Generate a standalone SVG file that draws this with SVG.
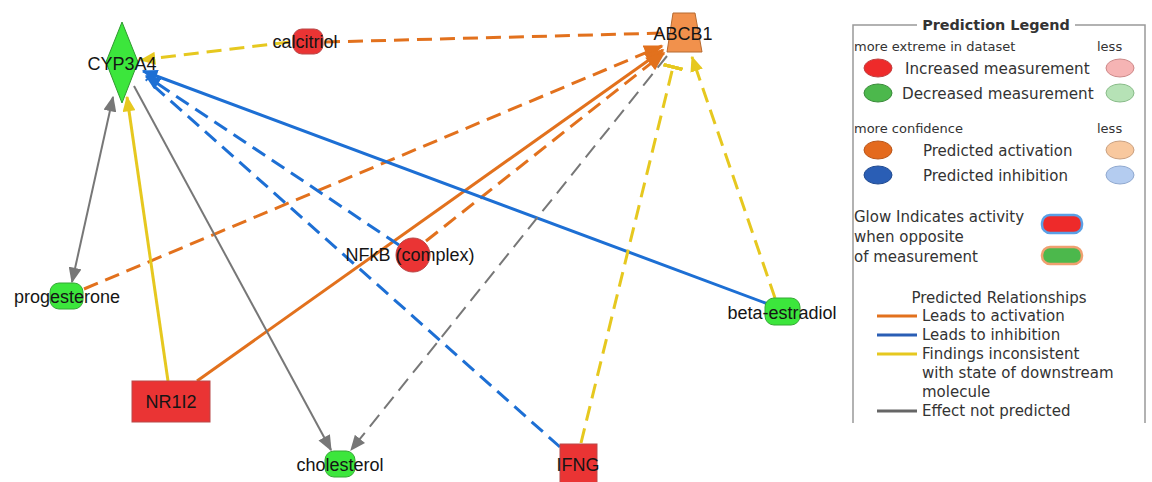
<svg xmlns="http://www.w3.org/2000/svg" width="1152" height="482" viewBox="0 0 1152 482">
  <defs>
    <style>
      .lbl { font-family: "Liberation Sans", Arial, sans-serif; font-size: 18px; fill: #151515; text-anchor: middle; }
      .leg { font-family: "DejaVu Sans", "Liberation Sans", sans-serif; fill: #333; }
      .e { fill: none; stroke-width: 3; }
      .act { stroke: #e2711d; }
      .inh { stroke: #1d6fd4; }
      .inc { stroke: #e6c81f; }
      .np { stroke: #777; stroke-width: 2; }
      .dash { stroke-dasharray: 15 8; }
      .green { fill: #3ce63c; stroke: #34a834; stroke-width: 1; }
      .red { fill: #ea3434; stroke: #b94848; stroke-width: 1; }
    </style>
    <marker id="arOrange" viewBox="0 0 12 10" refX="11" refY="5" markerWidth="20" markerHeight="16" markerUnits="userSpaceOnUse" orient="auto">
      <path d="M0,0 L12,5 L0,10 z" fill="#e2711d"/>
    </marker>
    <marker id="arBlue" viewBox="0 0 12 10" refX="11" refY="5" markerWidth="16" markerHeight="13" markerUnits="userSpaceOnUse" orient="auto">
      <path d="M0,0 L12,5 L0,10 z" fill="#1d6fd4"/>
    </marker>
    <marker id="arYellow" viewBox="0 0 12 10" refX="11" refY="5" markerWidth="16" markerHeight="13" markerUnits="userSpaceOnUse" orient="auto">
      <path d="M0,0 L12,5 L0,10 z" fill="#e6c81f"/>
    </marker>
    <marker id="arGray" viewBox="0 0 12 10" refX="11" refY="5" markerWidth="16" markerHeight="13" markerUnits="userSpaceOnUse" orient="auto">
      <path d="M0,0 L12,5 L0,10 z" fill="#777"/>
    </marker>
    <marker id="arGrayStart" viewBox="0 0 12 10" refX="1" refY="5" markerWidth="16" markerHeight="13" markerUnits="userSpaceOnUse" orient="auto">
      <path d="M12,0 L0,5 L12,10 z" fill="#777"/>
    </marker>
    <marker id="teeYellow" viewBox="0 0 4 20" refX="2" refY="10" markerWidth="4" markerHeight="20" markerUnits="userSpaceOnUse" orient="auto">
      <rect x="0" y="0" width="4" height="20" fill="#e6c81f"/>
    </marker>
  </defs>

  <rect width="1152" height="482" fill="#ffffff"/>

  <!-- connectors -->
  <g id="connectors">
    <line class="e act dash" x1="325" y1="42" x2="666" y2="33"/>
    <line class="e inc dash" x1="290" y1="42" x2="141" y2="60" marker-end="url(#arYellow)"/>
    <line class="e act dash" x1="84" y1="289" x2="662" y2="46" marker-end="url(#arOrange)"/>
    <line class="e act" x1="197" y1="381" x2="663" y2="50" marker-end="url(#arOrange)"/>
    <line class="e act dash" x1="426" y1="241" x2="664" y2="53" marker-end="url(#arOrange)"/>
    <line class="e inh" x1="768" y1="304" x2="143" y2="71" marker-end="url(#arBlue)"/>
    <line class="e inh dash" x1="399" y1="245" x2="146" y2="76" marker-end="url(#arBlue)"/>
    <line class="e inh dash" x1="560" y1="447" x2="146" y2="79"/>
    <line class="e inc dash" x1="581" y1="443" x2="673" y2="67" marker-end="url(#teeYellow)"/>
    <line class="e inc dash" x1="775" y1="298" x2="692" y2="57" marker-end="url(#arYellow)"/>
    <line class="e inc" x1="168" y1="381" x2="127" y2="97" marker-end="url(#arYellow)"/>
    <line class="e np" x1="113" y1="97" x2="72" y2="282" marker-start="url(#arGrayStart)" marker-end="url(#arGray)"/>
    <line class="e np" x1="134" y1="86" x2="331" y2="450" marker-end="url(#arGray)"/>
    <line class="e np dash" x1="667" y1="56" x2="351" y2="450" stroke-dasharray="9 6" marker-end="url(#arGray)"/>
  </g>

  <!-- nodes -->
  <g id="CYP3A4">
    <polygon points="122,22 138,62 122,103 106,62" fill="#3ce63c" stroke="#2f9a2f" stroke-width="1"/>
    <text class="lbl" x="122" y="70">CYP3A4</text>
  </g>
  <g id="calcitriol">
    <rect class="red" x="293" y="29" width="30" height="25" rx="9"/>
    <text class="lbl" x="305" y="48">calcitriol</text>
  </g>
  <g id="ABCB1">
    <polygon points="673,13 695,13 702,52 667,52" fill="#f1914c" stroke="#b66a30" stroke-width="1"/>
    <text class="lbl" x="683" y="40">ABCB1</text>
  </g>
  <g id="progesterone">
    <rect class="green" x="50" y="283" width="33" height="26" rx="9"/>
    <text class="lbl" x="67" y="303">progesterone</text>
  </g>
  <g id="NR1I2">
    <rect class="red" x="132" y="381" width="78" height="41"/>
    <text class="lbl" x="171" y="408">NR1I2</text>
  </g>
  <g id="NFkB">
    <circle class="red" cx="413" cy="255" r="17"/>
    <text class="lbl" x="410" y="261">NFkB (complex)</text>
  </g>
  <g id="cholesterol">
    <rect class="green" x="325" y="451" width="30" height="26" rx="9"/>
    <text class="lbl" x="340" y="471">cholesterol</text>
  </g>
  <g id="IFNG">
    <rect class="red" x="560" y="444" width="37" height="42"/>
    <text class="lbl" x="578" y="471">IFNG</text>
  </g>
  <g id="beta-estradiol">
    <rect class="green" x="765" y="298" width="35" height="27" rx="9"/>
    <text class="lbl" x="782" y="319">beta-estradiol</text>
  </g>

  <!-- legend -->
  <g id="legend">
    <path d="M853,423 V25 H917 M1075,25 H1145 V423" fill="none" stroke="#999" stroke-width="1.5"/>
    <text class="leg" x="996" y="30" font-size="14.4" font-weight="bold" text-anchor="middle" fill="#222">Prediction Legend</text>
    <text class="leg" x="854" y="51" font-size="13">more extreme in dataset</text>
    <text class="leg" x="1097" y="51" font-size="13">less</text>
    <ellipse cx="878" cy="68" rx="14" ry="9" fill="#ee2a2a" stroke="#c04040"/>
    <text class="leg" x="905" y="74" font-size="15.2">Increased measurement</text>
    <ellipse cx="1120" cy="68" rx="14" ry="9" fill="#f6b4b4" stroke="#c88"/>
    <ellipse cx="878" cy="93" rx="14" ry="9" fill="#4cb84c" stroke="#3a8a3a"/>
    <text class="leg" x="902" y="99" font-size="15.2">Decreased measurement</text>
    <ellipse cx="1120" cy="93" rx="14" ry="9" fill="#b6e2b6" stroke="#8b8"/>
    <text class="leg" x="854" y="133" font-size="13">more confidence</text>
    <text class="leg" x="1097" y="133" font-size="13">less</text>
    <ellipse cx="878" cy="150" rx="14" ry="9" fill="#e46a1e" stroke="#b9561a"/>
    <text class="leg" x="923" y="156" font-size="15">Predicted activation</text>
    <ellipse cx="1120" cy="150" rx="14" ry="9" fill="#f8c89e" stroke="#c9a080"/>
    <ellipse cx="878" cy="175" rx="14" ry="9" fill="#2a5eb5" stroke="#204a90"/>
    <text class="leg" x="923" y="181" font-size="15">Predicted inhibition</text>
    <ellipse cx="1120" cy="175" rx="14" ry="9" fill="#b4ccf0" stroke="#8fa8cf"/>
    <text class="leg" x="854" y="222" font-size="15">Glow Indicates activity</text>
    <text class="leg" x="854" y="242" font-size="15">when opposite</text>
    <text class="leg" x="854" y="262" font-size="15">of measurement</text>
    <rect x="1042" y="215" width="40" height="18" rx="8" fill="#ee2a2a" stroke="#5aa0e6" stroke-width="2.5"/>
    <rect x="1042" y="247" width="40" height="17" rx="8" fill="#4cb84c" stroke="#f0a070" stroke-width="2.5"/>
    <text class="leg" x="999" y="303" font-size="15" text-anchor="middle">Predicted Relationships</text>
    <line x1="877" y1="316" x2="917" y2="316" stroke="#e2711d" stroke-width="3"/>
    <text class="leg" x="922" y="321" font-size="15">Leads to activation</text>
    <line x1="877" y1="335" x2="917" y2="335" stroke="#2a5eb5" stroke-width="3"/>
    <text class="leg" x="922" y="340" font-size="15">Leads to inhibition</text>
    <line x1="877" y1="354" x2="917" y2="354" stroke="#e6c81f" stroke-width="3"/>
    <text class="leg" x="922" y="359" font-size="15">Findings inconsistent</text>
    <text class="leg" x="922" y="378" font-size="15">with state of downstream</text>
    <text class="leg" x="922" y="397" font-size="15">molecule</text>
    <line x1="877" y1="411" x2="917" y2="411" stroke="#666" stroke-width="3"/>
    <text class="leg" x="922" y="416" font-size="15">Effect not predicted</text>
  </g>
</svg>
